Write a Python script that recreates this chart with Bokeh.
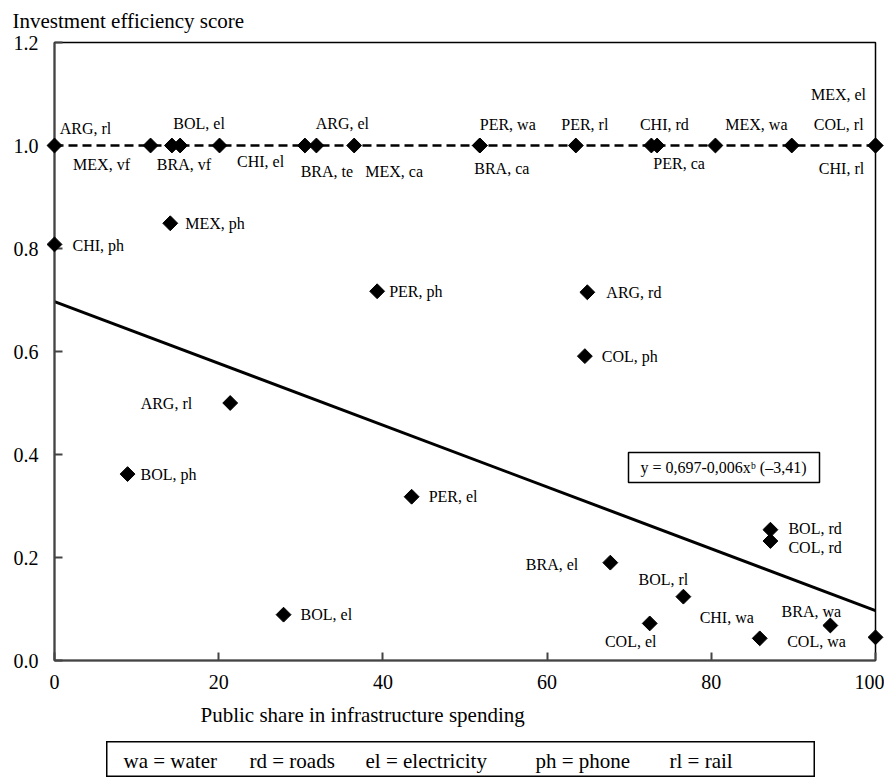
import math
from bokeh.plotting import figure
from bokeh.layouts import column, row
from bokeh.models import (ColumnDataSource, Range1d, FixedTicker, PrintfTickFormatter,
                          Label, BoxAnnotation, Title, Spacer)
from bokeh.core.properties import field, value
from bokeh.embed import file_html
from bokeh.resources import INLINE

FONT = "Liberation Serif"

# ---- data ----
labels = ["ARG, rl", "MEX, vf", "BRA, vf", "BOL, el", "CHI, el", "BRA, te", "ARG, el", "MEX, ca",
          "PER, wa", "BRA, ca", "PER, rl", "CHI, rd", "PER, ca", "MEX, wa", "COL, rl", "MEX, el",
          "CHI, rl",
          "CHI, ph", "MEX, ph", "PER, ph", "ARG, rl", "BOL, ph", "PER, el", "BOL, el", "ARG, rd",
          "COL, ph", "BRA, el", "BOL, rl", "COL, el", "CHI, wa", "BOL, rd", "COL, rd", "BRA, wa",
          "COL, wa"]
public_share = [0, 11.7, 14.3, 15.3, 20.1, 30.5, 31.9, 36.5,
                51.8, 51.8, 63.5, 72.7, 73.4, 80.5, 89.8, 100,
                100,
                0, 14.1, 39.3, 21.4, 8.9, 43.5, 27.9, 64.9,
                64.6, 67.7, 76.6, 72.5, 85.9, 87.2, 87.2, 94.5,
                100]
efficiency = [1.0, 1.0, 1.0, 1.0, 1.0, 1.0, 1.0, 1.0,
              1.0, 1.0, 1.0, 1.0, 1.0, 1.0, 1.0, 1.0,
              1.0,
              0.808, 0.849, 0.717, 0.500, 0.362, 0.318, 0.089, 0.715,
              0.591, 0.190, 0.124, 0.072, 0.043, 0.254, 0.232, 0.068,
              0.045]

# trend: y = a - b*x
trend_a = 0.697
trend_b = 0.006
trend_text = "y = 0,697-0,006x\u1d47 (\u20133,41)"

x_ticks = [0, 20, 40, 60, 80, 100]
y_ticks = [0.0, 0.2, 0.4, 0.6, 0.8, 1.0, 1.2]
y_title = "Investment efficiency score"
x_title = "Public share in infrastructure spending"
legend_items = ["wa = water", "rd = roads", "el = electricity", "ph = phone", "rl = rail"]

# ---- label placement (pixel offsets, styles) ----
label_dx = [31, -49, 12, 19, 41, 22, 26, 40,
            28, 22, 9, 13, 22, 41, 47, -37,
            -34,
            18, 15, 12, -38, 13, 17, 17, 19,
            17, -32, -20, -19, -33, 18, 18, -19,
            -59]
label_dy = [-17, 19, 19, -22, 16, 26, -22, 26,
            -21, 23, -21, -21, 18, -21, -21, -51,
            23,
            1, 0, 0, 0, 0, 0, 0, 0,
            0, 2, -17, 18, -21, -1, 6, -14,
            4]
label_align = ["center"] * 17 + ["left", "left", "left", "right", "left", "left", "left", "left",
                                 "left", "right", "center", "center", "center", "left", "left",
                                 "center", "center"]

src = ColumnDataSource(dict(x=public_share, y=efficiency, label=labels,
                            dx=label_dx, dy=label_dy, align=label_align))

p = figure(width=884, height=741, output_backend="svg", toolbar_location=None,
           x_range=Range1d(0, 100), y_range=Range1d(0, 1.2),
           min_border_left=54, min_border_right=9, min_border_top=41, min_border_bottom=81)
p.grid.visible = False
p.outline_line_color = "black"
p.outline_line_width = 1.5
p.background_fill_color = "white"
p.border_fill_color = "white"

for ax in (p.xaxis[0], p.yaxis[0]):
    ax.major_tick_in = 8
    ax.major_tick_out = 0
    ax.minor_tick_line_color = None
    ax.axis_line_color = "#444444"
    ax.axis_line_width = 2
    ax.major_tick_line_color = "#444444"
    ax.major_tick_line_width = 2
    ax.major_label_text_font = FONT
    ax.major_label_text_font_size = "20px"
    ax.major_label_text_color = "black"

p.xaxis.ticker = FixedTicker(ticks=x_ticks)
p.yaxis.ticker = FixedTicker(ticks=y_ticks)
p.yaxis.formatter = PrintfTickFormatter(format="%.1f")
p.xaxis.major_label_standoff = 14
p.yaxis.major_label_standoff = 16

# y-axis title, top left
p.title.text = y_title
p.title.align = "left"
p.title.vertical_align = "top"
p.title.offset = -42
p.title.text_font = FONT
p.title.text_font_size = "21px"
p.title.text_font_style = "normal"
p.title.text_color = "black"
p.title.standoff = 16

# x-axis title below
p.add_layout(Title(text=x_title, align="left", offset=146, text_font=FONT,
                   text_font_size="21px", text_font_style="normal",
                   text_color="black", standoff=19), "below")

# frontier line through the points scoring 1.0
front = sorted(x for x, y in zip(public_share, efficiency) if y == 1.0)
p.line(front, [1.0] * len(front), line_color="black", line_width=2.5, line_dash="9 5")

# trend line
tx = [min(public_share), max(public_share)]
ty = [trend_a - trend_b * v for v in tx]
p.line(tx, ty, line_color="black", line_width=3)

pts = p.scatter("x", "y", source=src, marker="square", angle=math.pi / 4, size=10.5,
                fill_color="black", line_color="black")
pts.level = "overlay"

txt = p.text("x", "y", text="label", source=src, x_offset="dx", y_offset="dy",
             text_align=field("align"), text_baseline="middle",
             text_font=value(FONT), text_font_size="16px", text_color="black")
txt.level = "overlay"

# equation box
p.add_layout(BoxAnnotation(left=574, right=765, top=208, bottom=178,
                           left_units="screen", right_units="screen",
                           top_units="screen", bottom_units="screen",
                           fill_color="white", fill_alpha=1.0,
                           line_color="black", line_alpha=1.0, line_width=1.5,
                           level="overlay"))
p.add_layout(Label(x=669, y=193, x_units="screen", y_units="screen", text=trend_text,
                   text_align="center", text_baseline="middle", text_font=FONT,
                   text_font_size="16px", text_color="black", level="overlay"))

# abbreviation box (separate small panel)
BOX_W, BOX_H = 709, 36
lg = figure(width=BOX_W, height=BOX_H, output_backend="svg", toolbar_location=None,
            x_range=Range1d(0, BOX_W), y_range=Range1d(0, BOX_H),
            x_axis_type=None, y_axis_type=None, min_border=0)
lg.grid.visible = False
lg.outline_line_color = "black"
lg.outline_line_width = 2
lg.background_fill_color = "white"
lg.border_fill_color = "white"
item_x = [17, 143, 259, 429, 563]
for item, ix in zip(legend_items, item_x):
    lg.add_layout(Label(x=ix, y=BOX_H / 2 - 1, x_units="screen", y_units="screen",
                        text=item, text_align="left", text_baseline="middle",
                        text_font=FONT, text_font_size="21px", text_font_style="normal",
                        text_color="black"))

layout = column(p, row(Spacer(width=106, height=BOX_H), lg))

open("out.html", "w").write(file_html(layout, INLINE))
